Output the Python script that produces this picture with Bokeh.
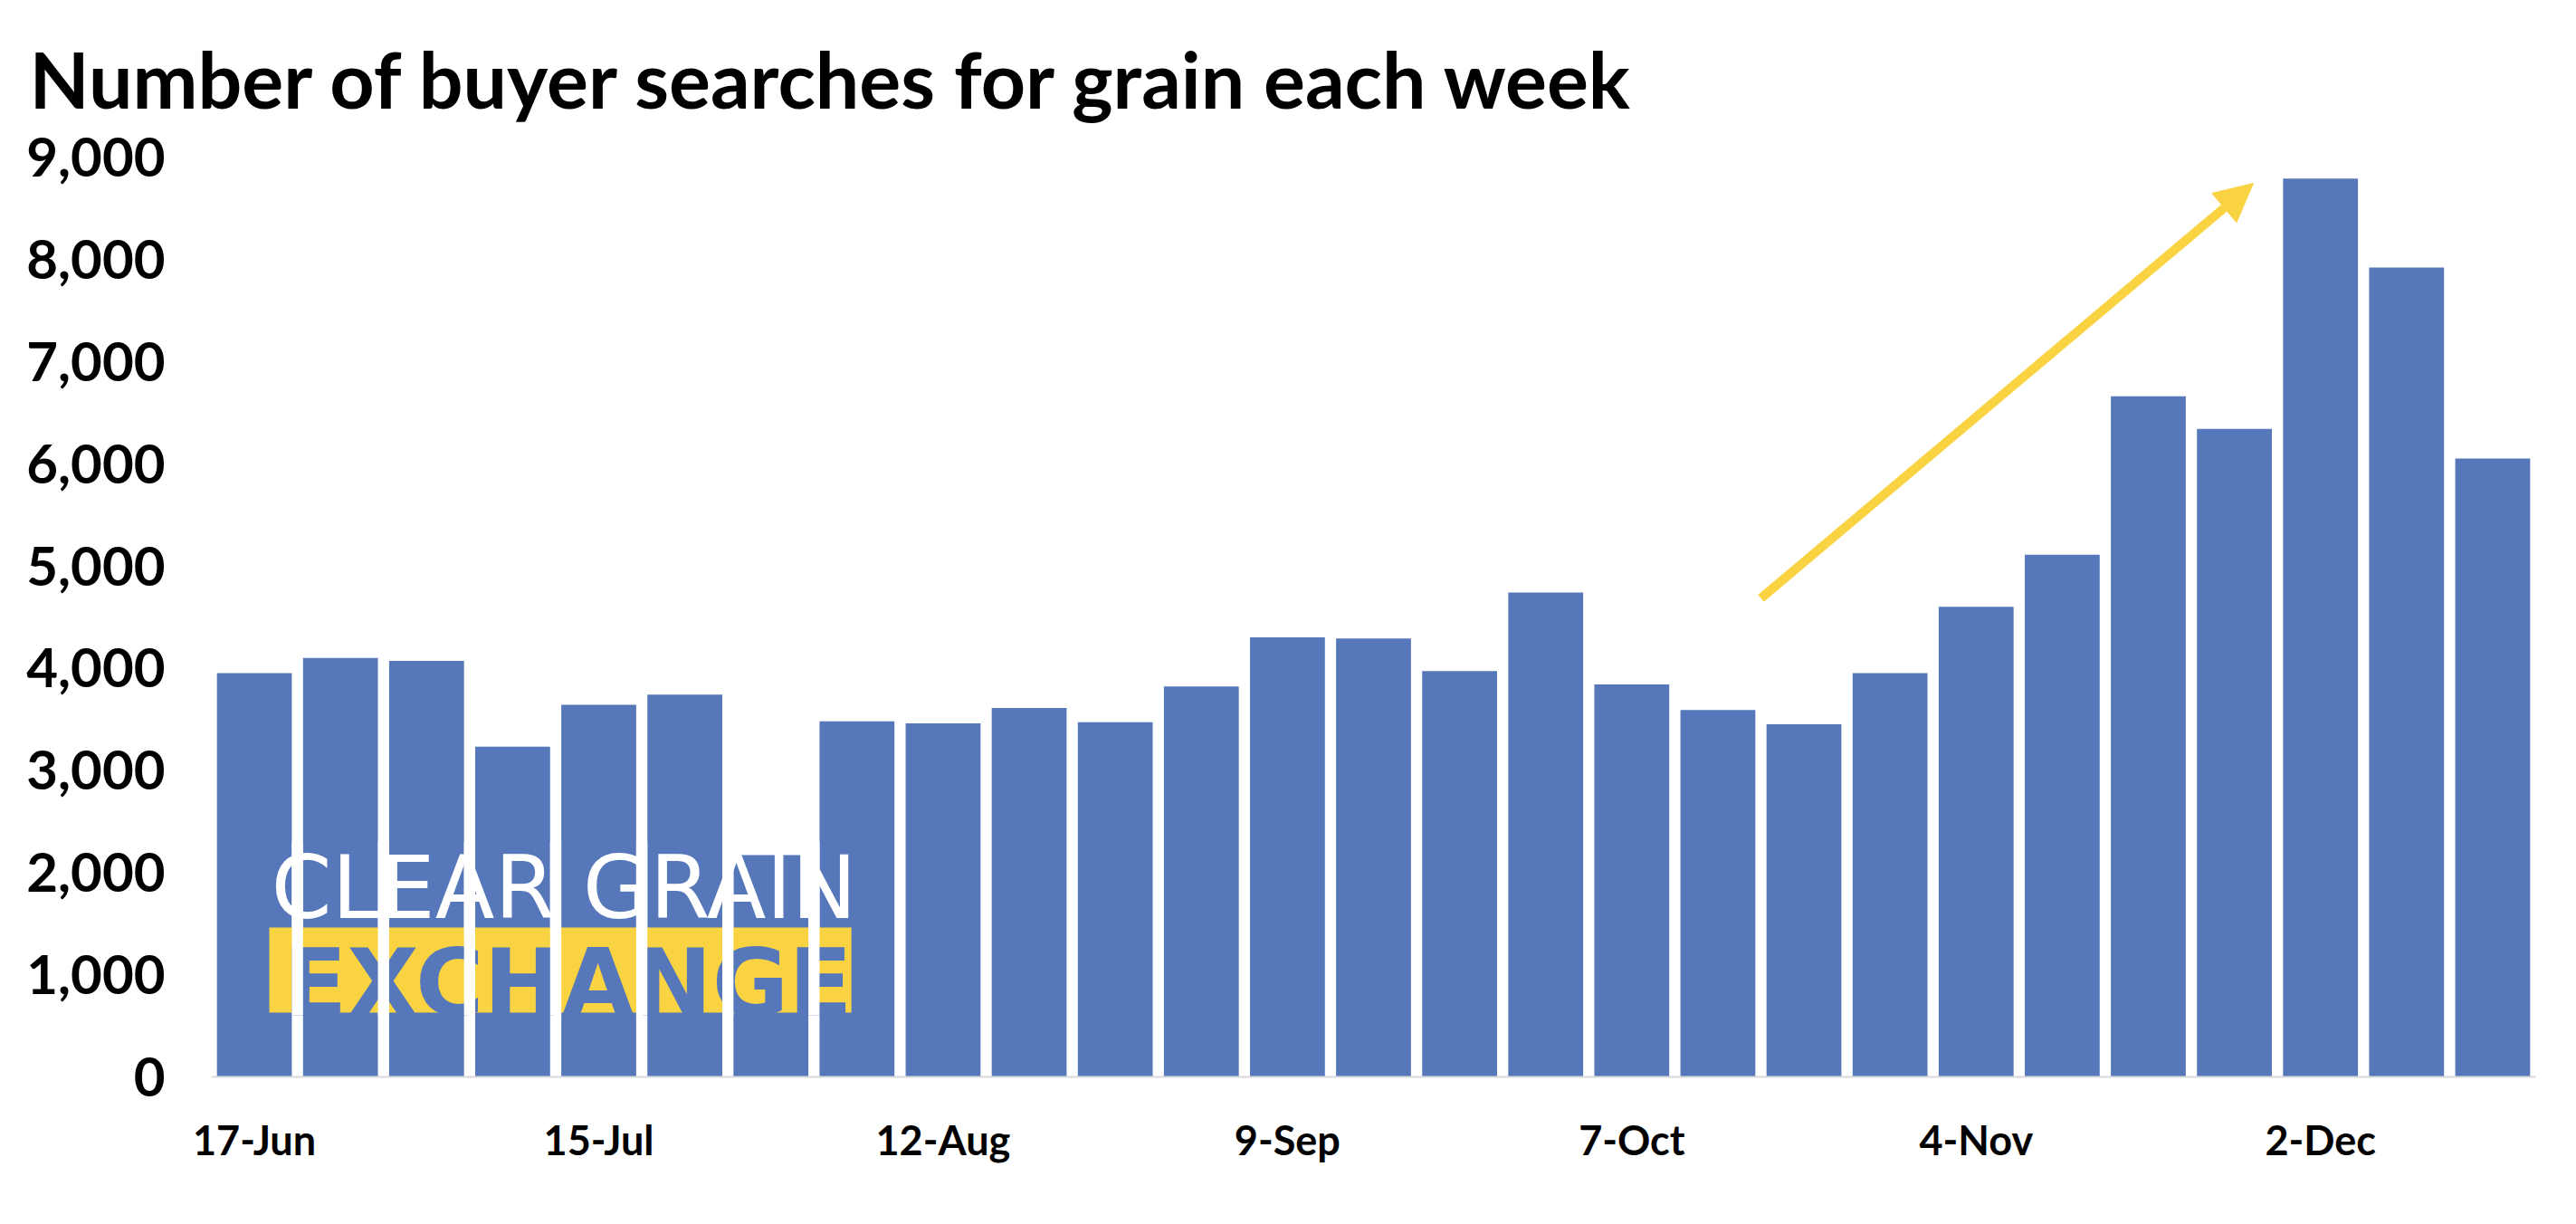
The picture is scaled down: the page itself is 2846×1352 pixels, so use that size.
from bokeh.plotting import figure
from bokeh.models import Range1d, FixedTicker, NumeralTickFormatter, Arrow, NormalHead
from bokeh.core.properties import value
from bokeh.embed import file_html
from bokeh.resources import INLINE

# ---- data ----
weeks = ["17-Jun", "24-Jun", "1-Jul", "8-Jul", "15-Jul", "22-Jul", "29-Jul",
         "5-Aug", "12-Aug", "19-Aug", "26-Aug", "2-Sep", "9-Sep", "16-Sep",
         "23-Sep", "30-Sep", "7-Oct", "14-Oct", "21-Oct", "28-Oct", "4-Nov",
         "11-Nov", "18-Nov", "25-Nov", "2-Dec", "9-Dec", "16-Dec"]
searches = [3950, 4100, 4070, 3230, 3640, 3740, 2170, 3480, 3460, 3610, 3470,
            3820, 4300, 4290, 3970, 4740, 3840, 3590, 3450, 3950, 4600, 5110,
            6660, 6340, 8790, 7920, 6050]
y_ticks = [0, 1000, 2000, 3000, 4000, 5000, 6000, 7000, 8000, 9000]
label_every = 4
title_text = "Number of buyer searches for grain each week"

# trend arrow (annotation, data coordinates)
arrow_start = (17.5, 4683)
arrow_end = (23.22, 8743)

BAR = "#5677BA"
YEL = "#F9D342"
FONT = "Lato"
BAR_W = 0.87

xs = list(range(len(weeks)))
tick_pos = [i for i in xs if i % label_every == 0]

p = figure(width=2830, height=1336, output_backend="svg", toolbar_location=None,
           x_range=Range1d(-0.5, len(weeks) - 0.5), y_range=Range1d(0, 9000),
           min_border_left=233, min_border_right=29, min_border_top=173,
           min_border_bottom=147, title=title_text)
p.outline_line_color = None
p.grid.visible = False
p.background_fill_color = "white"
p.border_fill_color = "white"

p.title.text_font = FONT
p.title.text_font_style = "bold"
p.title.text_font_size = "86px"
p.title.text_color = "black"
p.title.align = "left"
p.title.vertical_align = "top"
p.title.offset = -201
p.title.standoff = 68

p.vbar(x=xs, top=searches, width=BAR_W, bottom=0, fill_color=BAR, line_color=None)

# logo overlay
p.quad(left=[0.173], right=[6.935], bottom=[629], top=[1461], fill_color=YEL, line_color=None)
p.text(x=[3.64], y=[915], text=["EXCHANGE"], text_font=value("DejaVu Sans"),
       text_font_style="bold", text_font_size="103px", text_color=BAR,
       text_align="center", text_baseline="alphabetic")
p.text(x=[0.195], y=[1843], text=["CLEAR GRAIN"], text_font=value("DejaVu Sans"),
       text_font_size="96px", text_color="white", text_align="left",
       text_baseline="alphabetic")
gap_x = [i + 0.5 for i in xs[:7]]
p.vbar(x=gap_x, width=1 - BAR_W, bottom=600, top=2300, fill_color="white", line_color=None)

p.add_layout(Arrow(end=NormalHead(size=42, fill_color=YEL, line_color=YEL, line_width=1),
                   x_start=arrow_start[0], y_start=arrow_start[1],
                   x_end=arrow_end[0], y_end=arrow_end[1],
                   line_color=YEL, line_width=10))

# axes
p.xaxis.ticker = FixedTicker(ticks=tick_pos)
p.xaxis.major_label_overrides = {i: weeks[i] for i in tick_pos}
p.xaxis.axis_line_color = "#D9D9D9"
p.xaxis.axis_line_width = 2
p.xaxis.major_tick_line_color = None
p.xaxis.minor_tick_line_color = None
p.xaxis.major_tick_out = 0
p.xaxis.major_tick_in = 0
p.xaxis.major_label_standoff = 42
p.xaxis.major_label_text_font = FONT
p.xaxis.major_label_text_font_style = "bold"
p.xaxis.major_label_text_font_size = "45px"
p.xaxis.major_label_text_color = "black"

p.yaxis.ticker = FixedTicker(ticks=y_ticks)
p.yaxis.formatter = NumeralTickFormatter(format="0,0")
p.yaxis.axis_line_color = None
p.yaxis.major_tick_line_color = None
p.yaxis.minor_tick_line_color = None
p.yaxis.major_tick_out = 0
p.yaxis.major_tick_in = 0
p.yaxis.major_label_standoff = 51
p.yaxis.major_label_text_font = FONT
p.yaxis.major_label_text_font_style = "bold"
p.yaxis.major_label_text_font_size = "60px"
p.yaxis.major_label_text_color = "black"

open("out.html", "w").write(file_html(p, INLINE))
